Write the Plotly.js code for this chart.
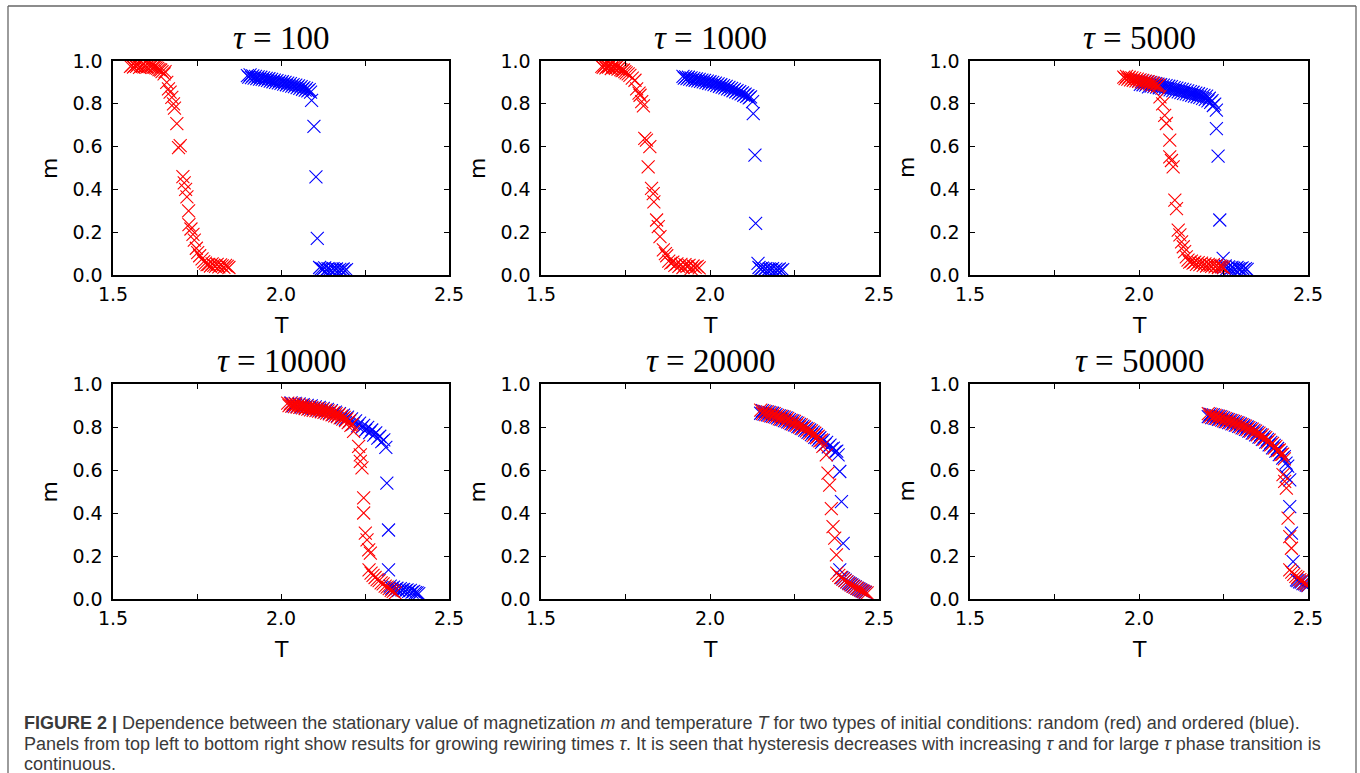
<!DOCTYPE html>
<html>
<head>
<meta charset="utf-8">
<script src="https://cdn.plot.ly/plotly-3.0.1.min.js"></script>
<style>html,body{margin:0;padding:0;background:#fff;}#chart{width:1360px;height:773px;}</style>
</head>
<body>
<div id="chart"></div>
<script>
// ---------------- DATA ----------------
var panelTitles = ['100', '1000', '5000', '10000', '20000', '50000'];
var xTickVals = [1.5, 1.75, 2.0, 2.25, 2.5];
var xTickText = ['1.5', '', '2.0', '', '2.5'];
var yTickVals = [0, 0.2, 0.4, 0.6, 0.8, 1.0];
var yTickText = ['0.0', '0.2', '0.4', '0.6', '0.8', '1.0'];

// tau = 100
var tau100_red_T = [1.552,1.556,1.561,1.565,1.570,1.574,1.579,1.583,1.588,1.592,1.597,1.601,1.606,1.610,1.615,1.619,1.624,1.628,1.633,1.637,1.642,1.646,
  1.652,1.655,1.660,1.665,1.670,1.675,1.680,1.683,1.690,1.695,1.700,1.708,1.712,1.716,1.720,1.725,1.726,1.732,1.738,1.742,1.748,1.752,1.758,1.765,1.770,
  1.775,1.780,1.785,1.790,1.795,1.800,1.805,1.810,1.815,1.820,1.825,1.830,1.835,1.840,1.845];
var tau100_red_m = [0.975,0.980,0.972,0.978,0.975,0.982,0.970,0.976,0.980,0.973,0.977,0.971,0.979,0.974,0.976,0.970,0.972,0.968,0.966,0.960,0.958,0.950,
  0.940,0.950,0.900,0.870,0.855,0.830,0.800,0.780,0.707,0.595,0.605,0.460,0.430,0.400,0.365,0.300,0.235,0.215,0.190,0.163,0.125,0.105,0.090,0.075,0.062,
  0.055,0.048,0.050,0.042,0.052,0.045,0.040,0.050,0.038,0.047,0.043,0.036,0.045,0.040,0.035];
var tau100_blue_T = [1.900,1.904,1.908,1.912,1.916,1.920,1.924,1.928,1.932,1.936,1.940,1.944,1.948,1.952,1.956,1.960,1.964,1.968,1.972,1.976,1.980,1.984,1.988,1.992,1.996,2.000,2.004,2.008,2.012,2.016,2.020,2.024,2.028,2.032,2.036,2.040,2.044,2.048,2.052,2.056,2.060,2.064,2.068,2.072,2.076,2.080,2.084,2.088,
  2.091,2.098,2.104,2.108,
  2.115,2.120,2.125,2.130,2.135,2.140,2.145,2.150,2.155,2.160,2.165,2.170,2.175,2.180,2.185,2.190,2.195];
var tau100_blue_m = [0.932,0.925,0.935,0.922,0.930,0.920,0.928,0.918,0.926,0.915,0.924,0.914,0.921,0.912,0.919,0.909,0.917,0.906,0.914,0.903,0.911,0.900,0.908,0.898,0.905,0.895,0.903,0.892,0.900,0.889,0.897,0.886,0.894,0.883,0.890,0.880,0.887,0.876,0.884,0.872,0.880,0.868,0.876,0.864,0.872,0.860,0.866,0.855,
  0.816,0.695,0.459,0.171,
  0.035,0.030,0.028,0.033,0.025,0.030,0.027,0.022,0.030,0.025,0.028,0.020,0.026,0.023,0.028,0.020,0.025];

// tau = 1000
var tau1000_red_T = [1.680,1.684,1.688,1.692,1.696,1.700,1.704,1.708,1.712,1.716,1.720,1.724,1.728,1.732,1.736,1.740,1.744,1.748,1.752,
  1.758,1.763,1.770,1.778,1.783,1.790,1.793,1.798,1.803,1.807,1.812,1.822,1.817,1.827,1.832,1.834,1.842,1.847,1.852,1.862,1.868,1.872,
  1.878,1.884,1.890,1.896,1.902,1.908,1.914,1.920,1.926,1.932,1.938,1.944,1.950,1.956,1.962,1.968];
var tau1000_red_m = [0.975,0.970,0.980,0.968,0.975,0.972,0.978,0.965,0.974,0.970,0.966,0.972,0.962,0.968,0.960,0.955,0.958,0.950,0.945,
  0.940,0.933,0.920,0.910,0.870,0.850,0.840,0.810,0.790,0.638,0.630,0.600,0.505,0.405,0.380,0.342,0.257,0.226,0.179,0.117,0.100,0.090,
  0.065,0.055,0.060,0.045,0.052,0.040,0.050,0.035,0.048,0.040,0.045,0.030,0.042,0.036,0.040,0.033];
var tau1000_blue_T = [1.920,1.924,1.928,1.932,1.936,1.940,1.944,1.948,1.952,1.956,1.960,1.964,1.968,1.972,1.976,1.980,1.984,1.988,1.992,1.996,2.000,2.004,2.008,2.012,2.016,2.020,2.024,2.028,2.032,2.036,2.040,2.044,2.048,2.052,2.056,2.060,2.064,2.068,2.072,2.076,2.080,2.084,2.088,2.092,2.096,2.100,2.104,2.108,2.112,2.116,2.120,
  2.126,2.128,2.133,2.135,2.142,
  2.145,2.150,2.155,2.160,2.165,2.170,2.175,2.180,2.185,2.190,2.195,2.200,2.205,2.210,2.215];
var tau1000_blue_m = [0.928,0.920,0.926,0.918,0.924,0.915,0.921,0.912,0.919,0.910,0.916,0.907,0.914,0.905,0.911,0.902,0.909,0.899,0.906,0.896,0.903,0.893,0.900,0.890,0.897,0.886,0.893,0.882,0.889,0.878,0.885,0.874,0.881,0.870,0.877,0.866,0.872,0.861,0.867,0.856,0.862,0.851,0.857,0.846,0.851,0.840,0.845,0.835,0.838,0.828,0.832,
  0.810,0.754,0.560,0.241,0.054,
  0.035,0.028,0.032,0.025,0.030,0.022,0.028,0.025,0.030,0.020,0.027,0.023,0.028,0.020,0.025];

// tau = 5000
var tau5000_red_T = [1.955,1.959,1.963,1.967,1.971,1.975,1.979,1.983,1.987,1.991,1.995,1.999,2.003,2.007,2.011,2.015,2.019,2.023,2.027,2.031,2.035,2.039,2.043,2.047,2.051,2.055,2.059,
  2.062,2.070,2.076,2.081,2.091,2.091,2.096,2.101,2.106,2.111,2.116,2.121,2.126,2.131,2.135,2.140,
  2.145,2.150,2.155,2.160,2.165,2.170,2.175,2.180,2.185,2.190,2.195,2.200,2.205,2.210,2.215,2.220,2.225,2.230,2.235,2.240,2.245,2.250];
var tau5000_red_m = [0.925,0.918,0.928,0.915,0.924,0.912,0.921,0.910,0.918,0.907,0.915,0.905,0.912,0.902,0.909,0.899,0.906,0.896,0.903,0.893,0.900,0.890,0.896,0.886,0.892,0.882,0.887,
  0.832,0.800,0.746,0.708,0.630,0.552,0.535,0.505,0.350,0.310,0.210,0.187,0.155,0.132,0.109,0.085,
  0.070,0.060,0.065,0.055,0.060,0.050,0.058,0.048,0.055,0.045,0.052,0.042,0.050,0.045,0.040,0.048,0.038,0.045,0.035,0.042,0.038,0.035];
var tau5000_blue_T = [2.000,2.004,2.008,2.012,2.016,2.020,2.024,2.028,2.032,2.036,2.040,2.044,2.048,2.052,2.056,2.060,2.064,2.068,2.072,2.076,2.080,2.084,2.088,2.092,2.096,2.100,2.104,2.108,2.112,2.116,2.120,2.124,2.128,2.132,2.136,2.140,2.144,2.148,2.152,2.156,2.160,2.164,2.168,2.172,2.176,2.180,2.184,2.188,2.192,2.196,2.200,2.204,2.208,2.212,2.216,2.220,2.224,
  2.229,2.229,2.234,2.239,2.249,
  2.245,2.250,2.255,2.260,2.265,2.270,2.275,2.280,2.285,2.290,2.295,2.300,2.305,2.310,2.315,2.320];
var tau5000_blue_m = [0.908,0.891,0.906,0.889,0.904,0.887,0.902,0.879,0.899,0.883,0.897,0.880,0.894,0.878,0.892,0.875,0.889,0.873,0.887,0.870,0.885,0.867,0.882,0.865,0.880,0.862,0.876,0.859,0.873,0.856,0.870,0.852,0.867,0.849,0.864,0.846,0.860,0.843,0.857,0.840,0.854,0.836,0.850,0.833,0.847,0.830,0.843,0.825,0.839,0.821,0.836,0.814,0.826,0.807,0.815,0.792,0.798,
  0.770,0.684,0.555,0.257,0.078,
  0.040,0.035,0.042,0.030,0.038,0.028,0.036,0.032,0.025,0.035,0.030,0.028,0.033,0.025,0.030,0.026];

// tau = 10000
var tau10000_red_T = [2.020,2.024,2.028,2.032,2.036,2.040,2.044,2.048,2.052,2.056,2.060,2.064,2.068,2.072,2.076,2.080,2.084,2.088,2.092,2.096,2.100,2.104,2.108,2.112,2.116,2.120,2.124,2.128,2.132,2.136,2.140,2.144,2.148,2.152,2.156,2.160,2.164,2.168,2.172,2.176,2.180,2.184,2.188,2.192,2.196,2.200,2.204,2.208,2.212,
  2.216,2.231,2.236,2.236,2.241,2.246,2.246,2.251,2.256,2.261,2.266,
  2.262,2.268,2.274,2.280,2.286,2.292,2.298,2.304,2.310,2.316,2.322,2.328,2.334,2.340];
var tau10000_red_m = [0.911,0.899,0.909,0.897,0.908,0.895,0.906,0.893,0.903,0.891,0.901,0.889,0.898,0.886,0.895,0.883,0.893,0.880,0.890,0.877,0.888,0.876,0.886,0.874,0.884,0.871,0.881,0.868,0.879,0.865,0.875,0.861,0.871,0.857,0.866,0.852,0.862,0.848,0.857,0.842,0.851,0.837,0.845,0.830,0.838,0.820,0.828,0.808,0.812,
  0.780,0.710,0.670,0.640,0.610,0.470,0.400,0.306,0.275,0.228,0.213,
  0.135,0.120,0.110,0.100,0.090,0.085,0.075,0.070,0.060,0.055,0.048,0.040,0.035,0.028];
var tau10000_blue_T = [2.030,2.036,2.042,2.048,2.054,2.060,2.066,2.072,2.078,2.084,2.090,2.096,2.102,2.108,2.114,2.120,2.126,2.132,2.138,2.144,2.150,2.156,2.162,2.168,2.174,2.180,2.186,2.192,2.198,2.204,2.210,2.216,2.222,2.228,2.234,2.240,2.246,2.252,2.258,2.264,2.270,2.276,2.282,2.288,2.294,2.300,2.306,2.312,
  2.315,2.320,2.320,
  2.325,2.330,2.335,2.340,2.345,2.350,2.355,2.360,2.365,2.370,2.375,2.380,2.385,2.390,2.395,2.400,2.405,2.410];
var tau10000_blue_m = [0.912,0.898,0.910,0.896,0.907,0.893,0.904,0.890,0.901,0.887,0.898,0.884,0.894,0.880,0.891,0.876,0.887,0.872,0.882,0.866,0.876,0.860,0.869,0.852,0.862,0.844,0.855,0.836,0.846,0.826,0.838,0.816,0.828,0.805,0.818,0.797,0.808,0.786,0.798,0.774,0.786,0.762,0.773,0.748,0.757,0.732,0.740,0.705,
  0.539,0.321,0.135,
  0.060,0.050,0.055,0.045,0.050,0.040,0.048,0.042,0.045,0.038,0.042,0.035,0.040,0.032,0.035,0.030,0.028,0.025];

// tau = 20000
var tau20000_red_T = [2.150,2.155,2.160,2.165,2.170,2.175,2.180,2.185,2.190,2.195,2.200,2.205,2.210,2.215,2.220,2.225,2.230,2.235,2.240,2.245,2.250,2.255,2.260,2.265,2.270,2.275,2.280,2.285,2.290,2.295,2.300,2.305,2.310,2.315,2.320,2.325,2.330,
  2.334,2.344,2.349,2.354,2.359,2.364,2.369,2.374,
  2.375,2.381,2.387,2.393,2.399,2.405,2.411,2.417,2.423,2.429,2.435,2.441,2.447,2.453,2.459,2.465];
var tau20000_red_m = [0.878,0.862,0.874,0.858,0.870,0.854,0.866,0.850,0.862,0.846,0.854,0.838,0.850,0.834,0.846,0.828,0.840,0.822,0.831,0.814,0.826,0.808,0.818,0.800,0.810,0.792,0.800,0.782,0.791,0.772,0.782,0.760,0.771,0.750,0.757,0.735,0.740,
  0.710,0.670,0.585,0.530,0.420,0.337,0.283,0.205,
  0.120,0.110,0.100,0.092,0.085,0.080,0.072,0.066,0.060,0.055,0.050,0.045,0.040,0.036,0.032,0.028];
var tau20000_blue_T = [2.150,2.155,2.160,2.165,2.170,2.175,2.180,2.185,2.190,2.195,2.200,2.205,2.210,2.215,2.220,2.225,2.230,2.235,2.240,2.245,2.250,2.255,2.260,2.265,2.270,2.275,2.280,2.285,2.290,2.295,2.300,2.305,2.310,2.315,2.320,2.325,2.330,2.335,2.340,2.345,2.350,2.355,2.360,2.365,2.370,2.375,
  2.379,2.384,2.389,2.394,2.384,
  2.390,2.395,2.400,2.405,2.410,2.415,2.420,2.425,2.430,2.435,2.440,2.445,2.450,2.455,2.460];
var tau20000_blue_m = [0.864,0.876,0.860,0.872,0.856,0.868,0.852,0.864,0.848,0.858,0.842,0.852,0.836,0.848,0.830,0.842,0.824,0.834,0.816,0.828,0.810,0.820,0.802,0.812,0.794,0.804,0.785,0.794,0.775,0.786,0.765,0.776,0.752,0.764,0.740,0.750,0.728,0.738,0.718,0.728,0.708,0.716,0.698,0.702,0.684,0.688,
  0.670,0.593,0.453,0.259,0.135,
  0.100,0.095,0.088,0.080,0.075,0.070,0.066,0.060,0.056,0.050,0.047,0.042,0.038,0.034,0.030];

// tau = 50000
var tau50000_red_T = [2.205,2.210,2.215,2.220,2.225,2.230,2.235,2.240,2.245,2.250,2.255,2.260,2.265,2.270,2.275,2.280,2.285,2.290,2.295,2.300,2.305,2.310,2.315,2.320,2.325,2.330,2.335,2.340,2.345,2.350,2.355,2.360,2.365,2.370,2.375,2.380,2.385,2.390,2.395,2.400,2.405,2.410,2.415,2.420,2.425,2.430,
  2.426,2.431,2.436,2.441,2.446,2.451,
  2.446,2.452,2.458,2.464,2.470,2.476,2.482,2.488,2.494,2.500];
var tau50000_red_m = [0.862,0.848,0.858,0.844,0.854,0.840,0.850,0.836,0.846,0.829,0.839,0.825,0.834,0.820,0.830,0.815,0.824,0.809,0.818,0.802,0.811,0.795,0.804,0.788,0.797,0.781,0.790,0.772,0.781,0.763,0.772,0.753,0.762,0.742,0.751,0.730,0.739,0.717,0.724,0.702,0.710,0.690,0.693,0.672,0.674,0.652,
  0.578,0.547,0.516,0.376,0.290,0.236,
  0.135,0.125,0.115,0.105,0.100,0.090,0.085,0.075,0.070,0.065];
var tau50000_blue_T = [2.205,2.210,2.215,2.220,2.225,2.230,2.235,2.240,2.245,2.250,2.255,2.260,2.265,2.270,2.275,2.280,2.285,2.290,2.295,2.300,2.305,2.310,2.315,2.320,2.325,2.330,2.335,2.340,2.345,2.350,2.355,2.360,2.365,2.370,2.375,2.380,2.385,2.390,2.395,2.400,2.405,2.410,2.415,2.420,2.425,2.430,2.435,2.440,
  2.436,2.446,2.446,2.451,2.456,2.466,
  2.470,2.475,2.480,2.485,2.490,2.495,2.500];
var tau50000_blue_m = [0.848,0.860,0.844,0.856,0.840,0.852,0.836,0.848,0.832,0.842,0.825,0.836,0.820,0.831,0.815,0.826,0.809,0.820,0.803,0.814,0.796,0.807,0.789,0.800,0.781,0.792,0.772,0.784,0.763,0.775,0.753,0.765,0.742,0.754,0.730,0.742,0.717,0.729,0.703,0.715,0.688,0.700,0.672,0.682,0.655,0.662,0.632,0.618,
  0.570,0.554,0.430,0.306,0.174,0.089,
  0.085,0.080,0.078,0.072,0.070,0.065,0.062];

var redSeries  = [[tau100_red_T, tau100_red_m], [tau1000_red_T, tau1000_red_m], [tau5000_red_T, tau5000_red_m],
                  [tau10000_red_T, tau10000_red_m], [tau20000_red_T, tau20000_red_m], [tau50000_red_T, tau50000_red_m]];
var blueSeries = [[tau100_blue_T, tau100_blue_m], [tau1000_blue_T, tau1000_blue_m], [tau5000_blue_T, tau5000_blue_m],
                  [tau10000_blue_T, tau10000_blue_m], [tau20000_blue_T, tau20000_blue_m], [tau50000_blue_T, tau50000_blue_m]];

// ---------------- LAYOUT GEOMETRY (pixels) ----------------
var W = 1360, H = 773;
var cols = [[113, 449], [541, 879], [970, 1308]];
var rows = [[61, 275], [384, 599]];

var traces = [];
var layout = {
  width: W, height: H,
  margin: {l: 0, r: 0, t: 0, b: 0},
  paper_bgcolor: '#fff', plot_bgcolor: '#fff',
  showlegend: false,
  annotations: [], shapes: []
};

function px2x(p) { return p / W; }
function px2y(p) { return 1 - p / H; }

for (var i = 0; i < 6; i++) {
  var c = cols[i % 3], r = rows[Math.floor(i / 3)];
  var sfx = i === 0 ? '' : String(i + 1);
  var mk = function(col) {
    return {symbol: 'x-thin', size: 13, color: col, line: {width: 1.1, color: col}};
  };
  traces.push({x: blueSeries[i][0], y: blueSeries[i][1], type: 'scatter', mode: 'markers',
    marker: mk('#0000ff'), xaxis: 'x' + sfx, yaxis: 'y' + sfx, hoverinfo: 'skip'});
  traces.push({x: redSeries[i][0], y: redSeries[i][1], type: 'scatter', mode: 'markers',
    marker: mk('#ff0000'), xaxis: 'x' + sfx, yaxis: 'y' + sfx, hoverinfo: 'skip'});

  var common = {
    ticks: 'inside', ticklen: 5, tickwidth: 1, tickcolor: '#000',
    showline: true, linecolor: '#000', linewidth: 1.6, mirror: 'ticks',
    showgrid: false, zeroline: false, fixedrange: true,
    tickfont: {family: 'DejaVu Sans', size: 19, color: '#000'}
  };
  layout['xaxis' + sfx] = Object.assign({}, common, {
    domain: [px2x(c[0]), px2x(c[1])], range: [1.5, 2.5],
    tickmode: 'array', tickvals: xTickVals, ticktext: xTickText,
    anchor: 'y' + sfx, ticklabelstandoff: 2
  });
  layout['yaxis' + sfx] = Object.assign({}, common, {
    domain: [px2y(r[1]), px2y(r[0])], range: [0, 1],
    tickmode: 'array', tickvals: yTickVals, ticktext: yTickText,
    anchor: 'x' + sfx, ticklabelstandoff: 5
  });

  var cx = (c[0] + c[1]) / 2, cy = (r[0] + r[1]) / 2;
  layout.annotations.push({
    xref: 'paper', yref: 'paper', x: px2x(cx), y: px2y(r[0] - 23),
    xanchor: 'center', yanchor: 'middle', showarrow: false,
    text: '<i>τ</i> = ' + panelTitles[i],
    font: {family: 'Liberation Serif', size: 33, color: '#000'}
  });
  layout.annotations.push({
    xref: 'paper', yref: 'paper', x: px2x(cx), y: px2y(r[1] + 50),
    xanchor: 'center', yanchor: 'middle', showarrow: false,
    text: 'T', font: {family: 'DejaVu Sans', size: 22, color: '#000'}
  });
  layout.annotations.push({
    xref: 'paper', yref: 'paper', x: px2x(c[0] - 64), y: px2y(cy),
    xanchor: 'center', yanchor: 'middle', showarrow: false, textangle: -90,
    text: 'm', font: {family: 'DejaVu Sans', size: 22, color: '#000'}
  });
}

// caption
var capFont = {family: 'Liberation Sans', size: 18, color: '#3a3a3a'};
var captionLines = [
  '<b>FIGURE 2 |</b> Dependence between the stationary value of magnetization <i>m</i> and temperature <i>T</i> for two types of initial conditions: random (red) and ordered (blue).',
  'Panels from top left to bottom right show results for growing rewiring times <i>τ</i>. It is seen that hysteresis decreases with increasing <i>τ</i> and for large <i>τ</i> phase transition is',
  'continuous.'
];
var capY = [723, 744, 764];
for (var k = 0; k < captionLines.length; k++) {
  layout.annotations.push({
    xref: 'paper', yref: 'paper', x: px2x(22), y: px2y(capY[k]),
    xanchor: 'left', yanchor: 'middle', showarrow: false, align: 'left',
    text: captionLines[k], font: capFont
  });
}

// outer frame
layout.shapes.push({type: 'line', xref: 'paper', yref: 'paper', x0: px2x(8), x1: px2x(8), y0: px2y(6), y1: px2y(780), line: {color: '#666', width: 1.3}});
layout.shapes.push({type: 'line', xref: 'paper', yref: 'paper', x0: px2x(1356), x1: px2x(1356), y0: px2y(6), y1: px2y(780), line: {color: '#666', width: 1.3}});
layout.shapes.push({type: 'line', xref: 'paper', yref: 'paper', x0: px2x(8), x1: px2x(1356), y0: px2y(6), y1: px2y(6), line: {color: '#666', width: 1.3}});

Plotly.newPlot('chart', traces, layout, {staticPlot: true, displayModeBar: false});
</script>
</body>
</html>
